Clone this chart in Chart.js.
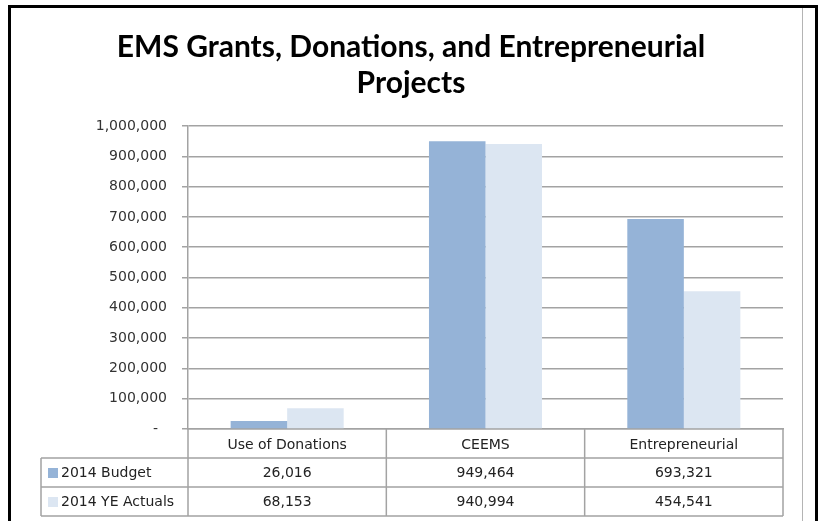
<!DOCTYPE html>
<html><head><meta charset="utf-8">
<script src="https://cdn.jsdelivr.net/npm/chart.js@4"></script>
<style>
html,body{margin:0;padding:0;background:#fff;}
#wrap{position:relative;width:822px;height:521px;overflow:hidden;background:#fff;}
#c{position:absolute;left:0;top:0;}
.b{position:absolute;background:#000;}
</style></head><body>
<div id="wrap">
<canvas id="c" width="822" height="521"></canvas>
<div class="b" style="left:8px;top:5px;width:3px;height:516px"></div>
<div class="b" style="left:8px;top:5px;width:810px;height:3px"></div>
<div class="b" style="left:815px;top:5px;width:3px;height:516px"></div>
<div style="position:absolute;left:802px;top:8px;width:1px;height:513px;background:#b4b4b4"></div>
</div>
<script>
const categories = ['Use of Donations', 'CEEMS', 'Entrepreneurial'];
const seriesNames = ['2014 Budget', '2014 YE Actuals'];
const budget = [26016, 949464, 693321];
const actuals = [68153, 940994, 454541];
const titleLines = ['EMS Grants, Donations, and Entrepreneurial', 'Projects'];
const yMin = 0, yMax = 1000000, yStep = 100000;

const colors = ['#95B3D7', '#DCE6F2'];
const gridColor = '#a3a3a3';
const tableFont = '14px "DejaVu Sans"';
const fmt = v => v.toLocaleString('en-US');

const tablePlugin = {
  id: 'dataTable',
  afterDraw(chart) {
    const {ctx, chartArea: ca, scales: {x}} = chart;
    const rowH = 29;
    const top = ca.bottom;
    const tableLeft = 41;
    ctx.save();
    ctx.strokeStyle = gridColor;
    ctx.lineWidth = 1.5;
    ctx.beginPath();
    for (let r = 1; r <= 3; r++) {
      const yy = top + r * rowH;
      ctx.moveTo(tableLeft, yy); ctx.lineTo(ca.right, yy);
    }
    for (let i = 0; i <= categories.length; i++) {
      const xx = x.getPixelForValue(i - 0.5);
      ctx.moveTo(xx, top); ctx.lineTo(xx, top + 3 * rowH);
    }
    ctx.moveTo(tableLeft, top + rowH); ctx.lineTo(tableLeft, top + 3 * rowH);
    ctx.stroke();

    const series = [budget, actuals];
    ctx.font = tableFont;
    ctx.textBaseline = 'middle';
    series.forEach((vals, s) => {
      const cy = top + rowH * (s + 1) + rowH / 2 + 0.5;
      ctx.fillStyle = colors[s];
      ctx.fillRect(tableLeft + 7, cy - 5, 10, 10);
      ctx.fillStyle = '#222';
      ctx.textAlign = 'left';
      ctx.fillText(seriesNames[s], tableLeft + 20, cy);
      ctx.textAlign = 'center';
      vals.forEach((v, i) => {
        ctx.fillText(fmt(v), x.getPixelForValue(i), cy);
      });
    });
    ctx.restore();
  }
};

new Chart(document.getElementById('c'), {
  type: 'bar',
  data: {
    labels: categories,
    datasets: [
      {label: seriesNames[0], data: budget, backgroundColor: colors[0], borderWidth: 0, yAxisID: 'y'},
      {label: seriesNames[1], data: actuals, backgroundColor: colors[1], borderWidth: 0, yAxisID: 'y'}
    ]
  },
  options: {
    responsive: false,
    animation: false,
    devicePixelRatio: 1,
    categoryPercentage: 0.57,
    barPercentage: 1.0,
    layout: {padding: {left: 0, right: 0, top: 0, bottom: 5}},
    plugins: {
      legend: {display: false},
      tooltip: {enabled: false},
      title: {
        display: true,
        text: titleLines,
        color: '#000',
        font: {family: 'Lato', size: 30, weight: 'bold', lineHeight: 36 / 30},
        padding: {top: 29, bottom: 25}
      }
    },
    scales: {
      x: {
        grid: {display: false},
        border: {display: true, color: gridColor, width: 1.5},
        ticks: {font: {family: 'DejaVu Sans', size: 14}, color: '#222', padding: 0, maxRotation: 0},
        afterFit(s) { s.height = 87; }
      },
      y: {
        min: yMin, max: yMax,
        ticks: {
          stepSize: yStep,
          font: {family: 'DejaVu Sans', size: 14}, color: '#333', padding: 15,
          callback: v => v === 0 ? '-  ' : fmt(v)
        },
        grid: {color: gridColor, lineWidth: 1.5, tickLength: 6},
        border: {display: true, color: gridColor, width: 1.5},
        afterFit(s) { s.width = 188; }
      },
      yRight: {
        position: 'right',
        display: true,
        grid: {display: false},
        border: {display: false},
        ticks: {display: false},
        afterFit(s) { s.width = 39; }
      }
    }
  },
  plugins: [tablePlugin]
});
</script>
</body></html>
